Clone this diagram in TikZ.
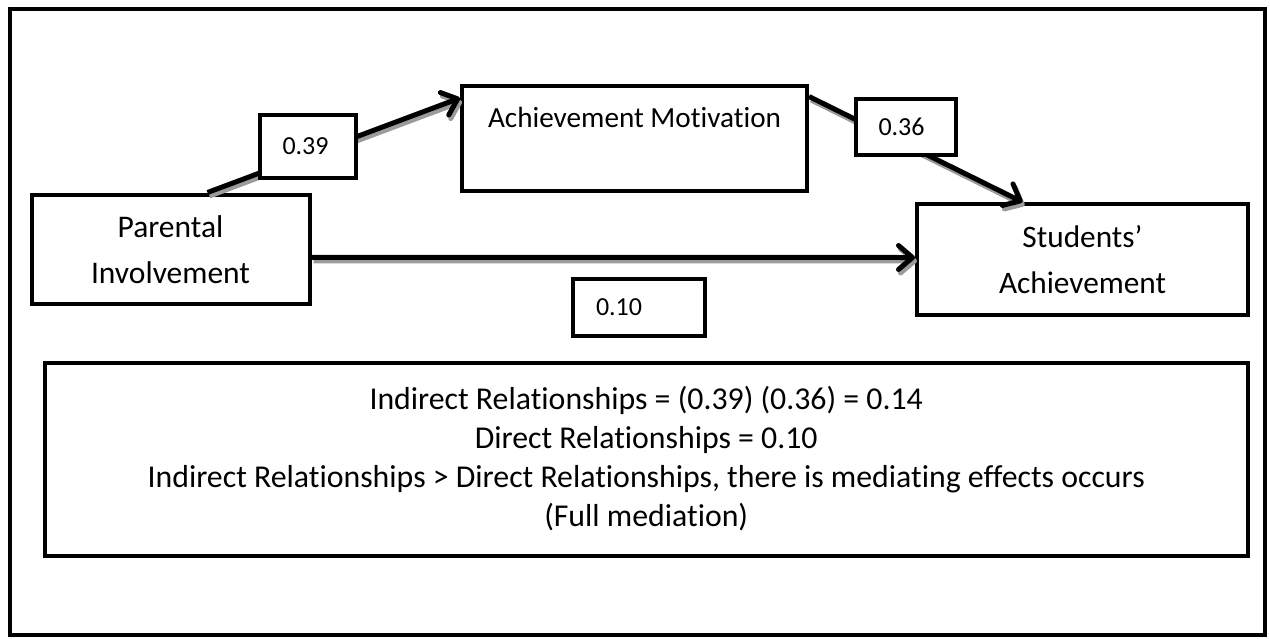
\documentclass[tikz,border=0pt]{standalone}
\usepackage{fontspec}
\setmainfont{Carlito}[Ligatures={NoCommon}]
\usetikzlibrary{arrows.meta}
\definecolor{shadowgray}{RGB}{155,155,155}
\tikzset{
  varbox/.style={draw, line width=4pt, inner sep=0pt, align=center},
  numbox/.style={draw, line width=4pt, fill=white, inner xsep=23pt, inner ysep=0pt, text width=#1, align=left, font=\fontsize{26}{31}\selectfont},
  relpath/.style={line width=5pt, -{Straight Barb[length=14pt,width=24pt,round]}},
  relshadow/.style={relpath, shadowgray, transform canvas={shift={(2pt,-3.5pt)}}}
}

\begin{document}
\begin{tikzpicture}[x=1pt, y=-1pt]

% page and outer frame
\useasboundingbox (0,0) rectangle (1270,638);
\draw[line width=4pt] (10,9) rectangle (1265,635);

% variables
\node[varbox, minimum width=278pt, minimum height=109.5pt, font=\fontsize{31.5}{46}\selectfont] (parent) at (170.5,249.25) {Parental\\Involvement};
\node[varbox, minimum width=345pt, minimum height=105.5pt, font=\fontsize{29.2}{36}\selectfont] (motiv) at (634.5,138.25) {Achievement Motivation\\[6pt]~};
\node[varbox, minimum width=331pt, minimum height=111pt, font=\fontsize{31.3}{46}\selectfont] (achieve) at (1082.5,259.5) {Students’\\Achievement};

% relations (shadow first)
\draw[relshadow] ([xshift=37pt]parent.north) -- ([yshift=-14.5pt]motiv.north west);
\draw[relpath] ([xshift=37pt]parent.north) -- ([yshift=-14.5pt]motiv.north west);
\draw[relshadow] ([yshift=-13pt]motiv.north east) -- ([xshift=-60pt]achieve.north);
\draw[relpath] ([yshift=-13pt]motiv.north east) -- ([xshift=-60pt]achieve.north);
\draw[relshadow] ([yshift=-8pt]parent.east) -- ([yshift=2pt]achieve.west);
\draw[relpath] ([yshift=-8pt]parent.east) -- ([yshift=2pt]achieve.west);

% coefficients
\node[numbox=50.5pt, minimum height=63pt] (coefa) at (307.75,146) {0.39};
\node[numbox=54pt, minimum height=56.5pt] (coefb) at (905.5,126.75) {0.36};
\node[numbox=85.5pt, minimum height=57pt] (coefc) at (638.75,307) {0.10};

% summary
\node[varbox, minimum width=1203.5pt, minimum height=193pt, font=\fontsize{31.8}{39}\selectfont] (summary) at (646.25,459) {Indirect Relationships = (0.39) (0.36) = 0.14\\Direct Relationships = 0.10\\Indirect Relationships > Direct Relationships, there is mediating effects occurs\\(Full mediation)};

\end{tikzpicture}
\end{document}
